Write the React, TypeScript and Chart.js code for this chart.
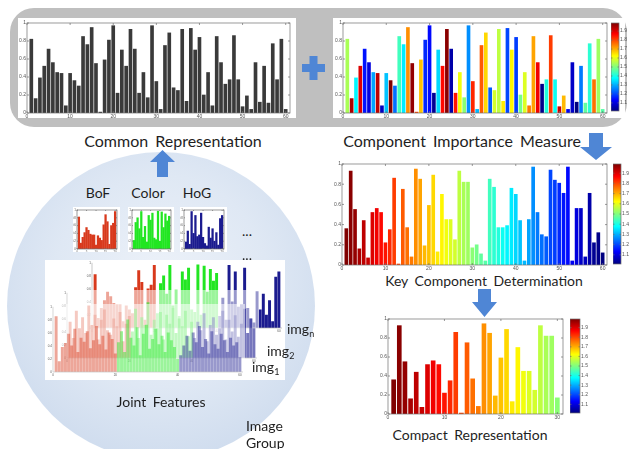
import React, { useEffect, useRef } from "react";
import { Chart, registerables } from "chart.js";

Chart.register(...registerables);
Chart.defaults.font.family = "'Liberation Sans', Arial, sans-serif";

// ---------------- DATA ----------------
// Common representation: 60 component values
const commonValues = [
  0.82, 0.16, 0.39, 0.52, 0.71, 0.56, 0.45, 0.44, 0.08, 0.44,
  0.36, 0.30, 0.85, 0.76, 0.95, 0.55, 0.01, 0.59, 0.81, 0.97,
  0.22, 0.70, 0.52, 0.93, 0.71, 0.22, 0.45, 0.17, 0.97, 0.35,
  0.04, 0.75, 0.89, 0.28, 0.25, 0.93, 0.13, 0.94, 0.70, 0.84,
  0.20, 0.45, 0.08, 0.85, 0.56, 0.32, 0.37, 0.86, 0.37, 0.07,
  0.19, 0.04, 0.56, 0.12, 0.52, 0.11, 0.77, 0.37, 0.82, 0.04,
];
// Component importance (colour value, colorbar 1.0 - 2.0)
const importance = [
  1.54, 1.95, 1.37, 1.90, 1.15, 1.10, 1.29, 1.93, 1.07, 1.32,
  1.99, 1.24, 1.44, 1.36, 1.73, 1.97, 1.80, 1.68, 1.17, 1.14,
  1.03, 1.34, 1.86, 1.98, 1.05, 1.85, 1.61, 1.51, 1.27, 1.83,
  1.31, 1.78, 1.66, 1.22, 1.58, 1.56, 1.64, 1.20, 1.63, 1.19,
  1.49, 1.59, 1.75, 1.71, 1.88, 1.02, 1.41, 1.81, 1.39, 1.92,
  1.69, 1.12, 1.08, 1.01, 1.25, 1.47, 1.42, 1.76, 1.53, 1.46,
];
const compactCount = 30;
const xTicks60 = [0, 10, 20, 30, 40, 50, 60];
const xTicks30 = [0, 10, 20, 30];
const yTicks = [0, 0.2, 0.4, 0.6, 0.8, 1];
const cbTicks = [1.1, 1.2, 1.3, 1.4, 1.5, 1.6, 1.7, 1.8, 1.9];
const cbMin = 1.01;
const cbMax = 1.99;

// Single-image features (BoF / Color / HoG)
const bofValues = [0.82, 0.15, 0.30, 0.42, 0.55, 0.48, 0.38, 0.36, 0.36, 0.10, 0.34, 0.28, 0.22, 0.62, 0.88, 0.70, 0.12, 0.60, 0.66, 0.96];
const colorValues = [0.22, 0.68, 0.80, 0.52, 0.96, 0.30, 0.58, 0.18, 0.86, 0.74, 0.92, 0.28, 0.24, 0.97, 0.20, 0.95, 0.55, 0.90, 0.72, 0.84];
const hogValues = [0.18, 0.46, 0.12, 0.96, 0.40, 0.86, 0.32, 0.36, 0.92, 0.30, 0.14, 0.08, 0.56, 0.28, 0.52, 0.20, 0.42, 0.10, 0.78, 0.86];
const smallTicks = [0, 5, 10, 15, 20];

// Joint features of img2 and img1
const img2Bof = [0.55, 0.30, 0.72, 0.45, 0.62, 0.38, 0.80, 0.50, 0.66, 0.28, 0.58, 0.74, 0.42, 0.35, 0.60, 0.48, 0.70, 0.25, 0.52, 0.64];
const img2Color = [0.40, 0.75, 0.30, 0.62, 0.50, 0.85, 0.35, 0.58, 0.45, 0.70, 0.28, 0.66, 0.52, 0.80, 0.38, 0.60, 0.48, 0.72, 0.33, 0.55];
const img2Hog = [0.30, 0.55, 0.42, 0.68, 0.25, 0.50, 0.62, 0.35, 0.45, 0.72, 0.28, 0.58, 0.40, 0.65, 0.32, 0.52, 0.75, 0.38, 0.60, 0.45];
const img1Bof = [0.85, 0.16, 0.38, 0.44, 0.58, 0.40, 0.66, 0.30, 0.52, 0.46, 0.62, 0.36, 0.48, 0.70, 0.42, 0.55, 0.34, 0.60, 0.50, 0.28];
const img1Color = [0.45, 0.62, 0.30, 0.80, 0.52, 0.40, 0.68, 0.25, 0.58, 0.72, 0.35, 0.50, 0.66, 0.42, 0.55, 0.30, 0.60, 0.48, 0.38, 0.20];
const img1Hog = [0.25, 0.40, 0.55, 0.32, 0.60, 0.45, 0.70, 0.38, 0.50, 0.28, 0.62, 0.42, 0.35, 0.58, 0.48, 0.30, 0.52, 0.40, 0.45, 0.22];
const jointTicks = [0, 20, 40, 60];

// ---------------- helpers ----------------
const BOF_RGB = [216, 57, 28];
const CLR_RGB = [34, 230, 34];
const HOG_RGB = [27, 27, 143];
const rgba = (c: number[], a: number) => `rgba(${c[0]},${c[1]},${c[2]},${a})`;

function jetT(t: number) {
  const c = (x: number) => Math.round(255 * Math.max(0, Math.min(1, x)));
  return `rgb(${c(1.5 - Math.abs(4 * t - 3))},${c(1.5 - Math.abs(4 * t - 2))},${c(1.5 - Math.abs(4 * t - 1))})`;
}
const jet = (v: number) => jetT((v - cbMin) / (cbMax - cbMin));

const boxPlugin = {
  id: "mbox",
  afterDatasetsDraw(chart: any, _a: any, opts: any) {
    const { ctx, chartArea: a } = chart;
    ctx.save();
    ctx.strokeStyle = opts.color || "#707070";
    ctx.lineWidth = opts.width || 0.7;
    if (opts.full === false) {
      ctx.beginPath();
      ctx.moveTo(a.left, a.top);
      ctx.lineTo(a.left, a.bottom);
      ctx.lineTo(a.right, a.bottom);
      ctx.stroke();
      ctx.restore();
      return;
    }
    ctx.strokeRect(a.left, a.top, a.right - a.left, a.bottom - a.top);
    const tl = opts.tick ?? 2;
    ctx.beginPath();
    const xs = chart.scales.x;
    if (xs && xs.options.display !== false) {
      for (const t of xs.ticks) {
        const p = xs.getPixelForValue(t.value);
        ctx.moveTo(p, a.bottom);
        ctx.lineTo(p, a.bottom - tl);
        ctx.moveTo(p, a.top);
        ctx.lineTo(p, a.top + tl);
      }
    }
    const ys = chart.scales.y;
    if (ys && ys.options.display !== false) {
      for (const t of ys.ticks) {
        const p = ys.getPixelForValue(t.value);
        ctx.moveTo(a.left, p);
        ctx.lineTo(a.left + tl, p);
        ctx.moveTo(a.right, p);
        ctx.lineTo(a.right - tl, p);
      }
    }
    ctx.stroke();
    ctx.restore();
  },
};

const bgPlugin = {
  id: "cbg",
  beforeDraw(chart: any, _a: any, opts: any) {
    if (!opts.color) return;
    const ctx = chart.ctx;
    ctx.save();
    ctx.fillStyle = opts.color;
    ctx.fillRect(0, 0, chart.width, chart.height);
    ctx.restore();
  },
};

const colorbarPlugin = {
  id: "cbar",
  beforeDatasetsDraw(chart: any) {
    const { ctx, chartArea: a } = chart;
    const g = ctx.createLinearGradient(0, a.bottom, 0, a.top);
    for (let k = 0; k <= 32; k++) g.addColorStop(k / 32, jetT(k / 32));
    ctx.save();
    ctx.fillStyle = g;
    ctx.fillRect(a.left, a.top, a.right - a.left, a.bottom - a.top);
    ctx.restore();
  },
};

type Box = [number, number, number, number];

function ChartCanvas({ left, top, width, height, makeConfig }: any) {
  const ref = useRef<HTMLCanvasElement>(null);
  useEffect(() => {
    const chart = new Chart(ref.current as HTMLCanvasElement, makeConfig());
    return () => chart.destroy();
  }, []);
  return (
    <canvas
      ref={ref}
      width={width}
      height={height}
      style={{ position: "absolute", left, top, width, height }}
    />
  );
}

type BarOpts = {
  box: Box;
  values: number[];
  colors: string | string[];
  xMax: number;
  xTicks: number[];
  barW: number;
  font: number;
  yw: number;
  xh: number;
  pt: number;
  pr: number;
  bg?: string;
  tick?: number;
  full?: boolean;
  boxColor?: string;
};

function BarPanel(o: BarOpts) {
  const [L, T, R, B] = o.box;
  const left = L - o.yw;
  const top = T - o.pt;
  const width = R - L + o.yw + o.pr;
  const height = B - T + o.pt + o.xh;
  const makeConfig = () => ({
    type: "bar",
    data: {
      datasets: [
        {
          data: o.values.map((v, i) => ({ x: i + 1, y: v })),
          backgroundColor: o.colors,
          barThickness: o.barW,
          borderWidth: 0,
        },
      ],
    },
    options: {
      animation: false,
      responsive: false,
      devicePixelRatio: 1,
      events: [],
      layout: { padding: { top: o.pt, right: o.pr, left: 0, bottom: 0 } },
      plugins: {
        legend: { display: false },
        tooltip: { enabled: false },
        mbox: { tick: o.tick ?? 2, full: o.full ?? true, color: o.boxColor },
        cbg: { color: o.bg },
      },
      scales: {
        x: {
          type: "linear",
          min: 0,
          max: o.xMax,
          offset: false,
          grid: { display: false, drawTicks: false },
          border: { display: false },
          ticks: {
            font: { size: o.font },
            color: "#555",
            padding: 1,
            maxRotation: 0,
            autoSkip: false,
            callback: (v: number) => String(v),
          },
          afterBuildTicks: (s: any) => {
            s.ticks = o.xTicks.map((v) => ({ value: v }));
          },
          afterFit: (s: any) => {
            s.height = o.xh;
          },
        },
        y: {
          type: "linear",
          min: 0,
          max: 1,
          grid: { display: false, drawTicks: false },
          border: { display: false },
          ticks: {
            font: { size: o.font },
            color: "#555",
            padding: 1,
            autoSkip: false,
            callback: (v: number) => String(v),
          },
          afterBuildTicks: (s: any) => {
            s.ticks = yTicks.map((v) => ({ value: v }));
          },
          afterFit: (s: any) => {
            s.width = o.yw;
          },
        },
      },
    },
    plugins: [bgPlugin, boxPlugin],
  });
  return <ChartCanvas left={left} top={top} width={width} height={height} makeConfig={makeConfig} />;
}

function Colorbar({ box, lw }: { box: Box; lw: number }) {
  const [L, T, R, B] = box;
  const pad = 3;
  const makeConfig = () => ({
    type: "bar",
    data: { datasets: [] },
    options: {
      animation: false,
      responsive: false,
      devicePixelRatio: 1,
      events: [],
      layout: { padding: { top: pad, bottom: pad, left: 0, right: 0 } },
      plugins: { legend: { display: false }, tooltip: { enabled: false }, mbox: { tick: 1.5 } },
      scales: {
        x: { type: "linear", display: false, min: 0, max: 1 },
        y: {
          type: "linear",
          position: "right",
          min: cbMin,
          max: cbMax,
          grid: { display: false, drawTicks: false },
          border: { display: false },
          ticks: {
            font: { size: 5 },
            color: "#555",
            padding: 1,
            autoSkip: false,
            callback: (v: number) => v.toFixed(1),
          },
          afterBuildTicks: (s: any) => {
            s.ticks = cbTicks.map((v) => ({ value: v }));
          },
          afterFit: (s: any) => {
            s.width = lw;
          },
        },
      },
    },
    plugins: [colorbarPlugin, boxPlugin],
  });
  return (
    <ChartCanvas left={L} top={T - pad} width={R - L + lw} height={B - T + 2 * pad} makeConfig={makeConfig} />
  );
}

function Text({ x, y, size = 14, children, align = "center" }: any) {
  return (
    <div
      style={{
        position: "absolute",
        left: x,
        top: y,
        transform: align === "center" ? "translate(-50%,-50%)" : "translate(0,-50%)",
        fontFamily: "Lato, 'Open Sans', sans-serif",
        fontSize: size,
        color: "#1e1e1e",
        whiteSpace: "nowrap",
        lineHeight: 1,
        wordSpacing: 3,
      }}
    >
      {children}
    </div>
  );
}

function ImgLabel({ x, y, sub }: any) {
  return (
    <div
      style={{
        position: "absolute",
        left: x,
        top: y,
        transform: "translate(0,-50%)",
        fontFamily: "Lato, 'Open Sans', sans-serif",
        fontSize: 14,
        color: "#1e1e1e",
        whiteSpace: "nowrap",
        lineHeight: 1,
      }}
    >
      img<sub style={{ fontSize: 9, verticalAlign: -3 }}>{sub}</sub>
    </div>
  );
}

export default function App() {
  const topColors = importance.map((v) => jet(v));
  const order = importance.map((_, i) => i).sort((a, b) => importance[b] - importance[a]);
  const keyValues = order.map((i) => commonValues[i]);
  const keyColors = order.map((i) => jet(importance[i]));
  const compactValues = keyValues.slice(0, compactCount);
  const compactColors = keyColors.slice(0, compactCount);

  const seg = (a: number[], b: number[], c: number[]) => [...a, ...b, ...c];
  const segColors = (alpha: number) => [
    ...bofValues.map(() => rgba(BOF_RGB, alpha)),
    ...colorValues.map(() => rgba(CLR_RGB, alpha)),
    ...hogValues.map(() => rgba(HOG_RGB, alpha)),
  ];

  const arrowColor = "#4f86d5";

  return (
    <div
      style={{
        position: "absolute",
        left: 0,
        top: 0,
        width: 629,
        height: 449,
        overflow: "hidden",
        background: "#ffffff",
      }}
    >
      {/* grey top panel */}
      <div style={{ position: "absolute", left: 10, top: 8, width: 617, height: 119, borderRadius: 24, background: "#bfbfbf" }} />
      <div style={{ position: "absolute", left: 18, top: 18, width: 278, height: 100, background: "#fff" }} />
      <div style={{ position: "absolute", left: 333, top: 18, width: 292, height: 100, background: "#fff" }} />

      {/* image group circle */}
      <div
        style={{
          position: "absolute",
          left: 7,
          top: 152,
          width: 308,
          height: 308,
          borderRadius: "50%",
          background: "radial-gradient(circle at 50% 42%, #edf2f9 0%, #dfe8f4 45%, #c4d4ea 100%)",
        }}
      />
      <div style={{ position: "absolute", left: 45, top: 260, width: 240, height: 120, background: "#fff" }} />

      {/* top charts */}
      <BarPanel box={[27, 22, 290, 113]} values={commonValues} colors="#3a3a3a" xMax={61} xTicks={xTicks60} barW={3} font={5} yw={9} xh={7} pt={3} pr={4} />
      <BarPanel box={[343, 22, 607, 113]} values={commonValues} colors={topColors} xMax={61} xTicks={xTicks60} barW={3} font={5} yw={9} xh={7} pt={3} pr={3} />
      <Colorbar box={[611, 22, 619, 112]} lw={10} />

      {/* key component chart */}
      <BarPanel box={[342, 163, 607, 265]} values={keyValues} colors={keyColors} xMax={61} xTicks={xTicks60} barW={3} font={5} yw={9} xh={7} pt={3} pr={3} />
      <Colorbar box={[613, 163, 621, 265]} lw={8} />

      {/* compact chart */}
      <BarPanel box={[388, 318, 563, 414]} values={compactValues} colors={compactColors} xMax={31} xTicks={xTicks30} barW={4} font={5} yw={9} xh={7} pt={3} pr={3} />
      <Colorbar box={[570, 318, 580, 414]} lw={10} />

      {/* single-image features */}
      <BarPanel box={[77, 210, 117, 249]} values={bofValues} colors={rgba(BOF_RGB, 1)} xMax={21} xTicks={smallTicks} barW={1.6} font={3} yw={4} xh={3} pt={3} pr={3} bg="#fff" tick={1} />
      <BarPanel box={[132, 210, 171, 249]} values={colorValues} colors={rgba(CLR_RGB, 1)} xMax={21} xTicks={smallTicks} barW={1.6} font={3} yw={4} xh={3} pt={3} pr={3} bg="#fff" tick={1} />
      <BarPanel box={[184, 210, 224, 249]} values={hogValues} colors={rgba(HOG_RGB, 1)} xMax={21} xTicks={smallTicks} barW={1.6} font={3} yw={4} xh={3} pt={3} pr={3} bg="#fff" tick={1} />

      {/* joint features: img_n (back), img2, img1 (front) */}
      <BarPanel box={[92, 262, 282, 328]} values={seg(bofValues, colorValues, hogValues)} colors={segColors(1)} xMax={61} xTicks={jointTicks} barW={2.3} font={3} yw={6} xh={4} pt={2} pr={2} tick={1} full={false} boxColor="#b0b0b0" />
      <BarPanel box={[67, 292, 257, 358]} values={seg(img2Bof, img2Color, img2Hog)} colors={segColors(0.6)} xMax={61} xTicks={jointTicks} barW={2.3} font={3} yw={6} xh={4} pt={2} pr={2} bg="rgba(255,255,255,0.55)" tick={1} full={false} boxColor="#c4c4c4" />
      <BarPanel box={[53, 306, 243, 372]} values={seg(img1Bof, img1Color, img1Hog)} colors={segColors(0.45)} xMax={61} xTicks={jointTicks} barW={2.3} font={3} yw={6} xh={4} pt={2} pr={2} bg="rgba(255,255,255,0.55)" tick={1} full={false} boxColor="#c4c4c4" />

      {/* texts */}
      <Text x={173} y={141} size={16}>Common Representation</Text>
      <Text x={462} y={141} size={16}>Component Importance Measure</Text>
      <Text x={484} y={281} size={14}>Key Component Determination</Text>
      <Text x={470} y={435} size={14}>Compact Representation</Text>
      <Text x={98} y={193} size={14}>BoF</Text>
      <Text x={148} y={193} size={14}>Color</Text>
      <Text x={197} y={193} size={14}>HoG</Text>
      <Text x={247} y={231} size={14}>...</Text>
      <Text x={247} y={255} size={14}>...</Text>
      <Text x={161} y={402} size={14}>Joint Features</Text>
      <Text x={246} y={426} size={14} align="left">Image</Text>
      <Text x={246} y={443} size={14} align="left">Group</Text>
      <ImgLabel x={287} y={330} sub="n" />
      <ImgLabel x={267} y={352} sub="2" />
      <ImgLabel x={252} y={368} sub="1" />

      {/* arrows and plus */}
      <svg width={629} height={449} style={{ position: "absolute", left: 0, top: 0, pointerEvents: "none" }}>
        <polygon points="157,177 157,162 150,162 162.5,150 175,162 168,162 168,177" fill={arrowColor} />
        <polygon points="589,133 603,133 603,147 612,147 596,160 580,147 589,147" fill={arrowColor} />
        <polygon points="478,289 491,289 491,302 497,302 484.5,317 472,302 478,302" fill={arrowColor} />
        <rect x={302} y={64} width={23} height={8} fill={arrowColor} />
        <rect x={309.5} y={56} width={8} height={24} fill={arrowColor} />
      </svg>
    </div>
  );
}
